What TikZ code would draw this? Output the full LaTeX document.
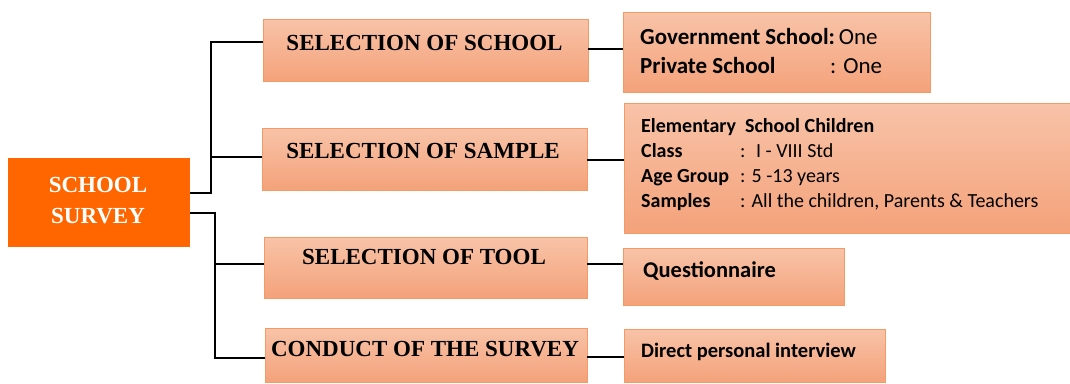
\documentclass[tikz,border=0pt]{standalone}
\usepackage{fontspec}
\setmainfont{Liberation Serif}
\newfontfamily\calfont{Carlito}
\definecolor{mainorange}{HTML}{FF6600}
\definecolor{boxtop}{HTML}{F8C3A8}
\definecolor{boxbot}{HTML}{F4A27A}
\definecolor{boxedge}{HTML}{F39A66}
\tikzset{
  x=1pt, y=-1pt,
  conn/.style={line width=2.6pt, line join=miter},
  pbox/.style={draw=boxedge, line width=0.8pt, top color=boxtop, bottom color=boxbot, inner sep=0pt},
  midtxt/.style={anchor=base, inner sep=0pt, font=\fontsize{23}{28}\selectfont\bfseries},
  rtxt/.style={anchor=base west, inner sep=0pt, align=left},
}
\begin{document}
\begin{tikzpicture}
\useasboundingbox (0,0) rectangle (1070,383);
% main box
\node[fill=mainorange, minimum width=182pt, minimum height=89pt, inner sep=0pt] (main) at (99,202.5) {};
\node[anchor=base, inner sep=0pt, text=white, font=\fontsize{23}{31}\selectfont\bfseries, align=center] (maintxt) at (98,223) {SCHOOL\\SURVEY};
% middle boxes
\node[pbox, minimum width=325pt, minimum height=62pt] (school) at (425.5,50) {};
\node[pbox, minimum width=325pt, minimum height=62pt] (sample) at (424.5,159) {};
\node[pbox, minimum width=323pt, minimum height=61pt] (tool) at (425.5,267.5) {};
\node[pbox, minimum width=322pt, minimum height=54pt] (conduct) at (426,355) {};
\node[midtxt] (t1) at (424.5,50.7) {SELECTION OF SCHOOL};
\node[midtxt] (t2) at (423,158) {SELECTION OF SAMPLE};
\node[midtxt] (t3) at (424,264) {SELECTION OF TOOL};
\node[midtxt] (t4) at (425,356.5) {CONDUCT OF THE SURVEY};
% right boxes
\node[pbox, minimum width=307pt, minimum height=80pt] (gov) at (776.5,52) {};
\node[pbox, minimum width=450pt, minimum height=130pt] (smp) at (849,168) {};
\node[pbox, minimum width=221pt, minimum height=57pt] (quest) at (733.5,276.5) {};
\node[pbox, minimum width=261pt, minimum height=53pt] (direct) at (754.5,355.5) {};
\node[rtxt, font=\calfont\fontsize{23}{29}\selectfont] (govtxt) at (640,73)
  {\textbf{Government School:}\,One\\\makebox[190pt][l]{\textbf{Private School}}: One};
\node[rtxt, font=\calfont\fontsize{20}{24.7}\selectfont] (smptxt) at (641,207)
  {\textbf{Elementary\ \ School Children}\\
   \makebox[99pt][l]{\textbf{Class}}: \ I - VIII Std\\
   \makebox[99pt][l]{\textbf{Age Group}}: 5 -13 years\\
   \makebox[99pt][l]{\textbf{Samples}}: All the children, Parents \& Teachers};
\node[rtxt, font=\calfont\bfseries\fontsize{22.5}{26}\selectfont] (qtxt) at (643,277) {Questionnaire};
\node[rtxt, font=\calfont\bfseries\fontsize{20.5}{24}\selectfont] (dtxt) at (641,357) {Direct personal interview};
% connectors
\coordinate (j1) at (211,193);
\coordinate (j2) at (215,213);
\draw[conn] (main.east |- j1) -- (j1) |- (school.west |- 0,42);
\draw[conn] (211,157) -- (sample.west |- 0,157);
\draw[conn] (main.east |- j2) -- (j2) |- (conduct.west |- 0,358);
\draw[conn] (215,264) -- (tool.west |- 0,264);
\draw[conn] (school.east |- 0,49) -- (gov.west |- 0,49);
\draw[conn] (sample.east |- 0,160) -- (smp.west |- 0,160);
\draw[conn] (tool.east |- 0,264) -- (quest.west |- 0,264);
\draw[conn] (conduct.east |- 0,357) -- (direct.west |- 0,357);
\end{tikzpicture}
\end{document}
